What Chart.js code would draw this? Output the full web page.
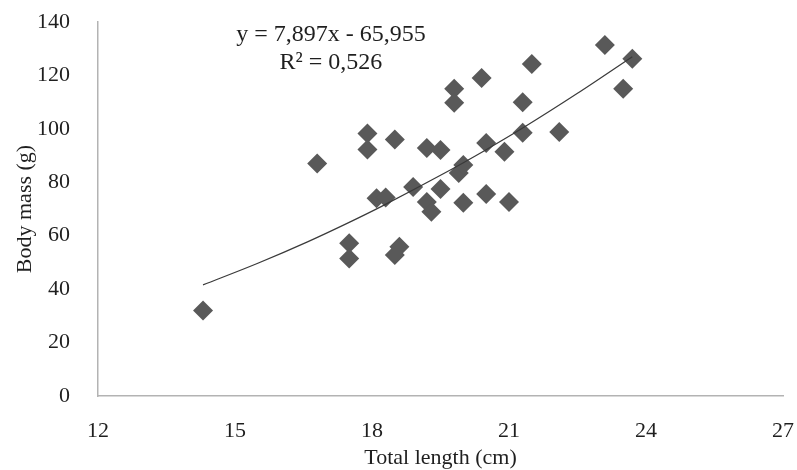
<!DOCTYPE html>
<html>
<head>
<meta charset="utf-8">
<script src="https://cdn.jsdelivr.net/npm/chart.js@4.4.0/dist/chart.umd.min.js"></script>
<style>
  html, body { margin: 0; padding: 0; background: #ffffff; }
  #wrap { width: 797px; height: 470px; }
</style>
</head>
<body>
<div id="wrap"><canvas id="myChart"></canvas></div>
<script>
// Body mass vs total length

const lengthCm = [14.3, 16.8, 17.5, 17.5, 17.9, 17.9, 18.1, 18.3, 18.5, 18.5, 18.6, 18.9, 19.2, 19.2, 19.3, 19.5, 19.5, 19.8, 19.8, 19.9, 20.0, 20.0, 20.4, 20.5, 20.5, 20.9, 21.0, 21.3, 21.3, 21.5, 22.1, 23.1, 23.5, 23.7];
const massG = [32, 87, 57.2, 51.5, 98.3, 92.3, 74, 74.3, 96, 52.8, 55.9, 78.2, 92.8, 72.6, 69, 92.1, 77.5, 115, 109.8, 83.5, 86.5, 72.3, 119, 94.7, 75.6, 91.4, 72.6, 110, 98.5, 124.3, 98.8, 131.4, 115, 126.2];

// trend curve as drawn in the figure
const trendX = [14.3, 15.5, 16.6, 17.5, 18.2, 19.5, 20.5, 21.3, 22.5, 23.7];
const trendY = [41.6, 49.7, 57.8, 65, 70.9, 82.6, 92.2, 100.3, 113.3, 127];

const xTicks = [12, 15, 18, 21, 24, 27];
const yTicks = [0, 20, 40, 60, 80, 100, 120, 140];

const equationLines = ["y = 7,897x - 65,955", "R\u00B2 = 0,526"];

const serif = "'Liberation Serif', 'Times New Roman', serif";
const textColor = "#1f1f1f";

const points = lengthCm.map((x, i) => ({ x: x, y: massG[i] }));
const trend = trendX.map((x, i) => ({ x: x, y: trendY[i] }));

// Draw the equation text inside the plot
const equationPlugin = {
  id: "equation",
  afterDraw(chart) {
    const ctx = chart.ctx;
    const xs = chart.scales.x;
    ctx.save();
    ctx.font = "24px " + serif;
    ctx.fillStyle = textColor;
    ctx.textAlign = "center";
    ctx.textBaseline = "middle";
    const cx = xs.getPixelForValue(17.1);
    ctx.fillText(equationLines[0], cx, 35);
    ctx.fillText(equationLines[1], cx, 63);
    ctx.restore();
  },
};

const ctx = document.getElementById("myChart").getContext("2d");
const myChart = new Chart(ctx, {
  type: "scatter",
  data: {
    datasets: [
      {
        label: "Body mass",
        data: points,
        pointStyle: "rectRot",
        pointRadius: 10,
        pointHoverRadius: 10,
        backgroundColor: "#595959",
        borderColor: "#595959",
        borderWidth: 0,
        order: 2,
      },
      {
        label: "Trend",
        type: "line",
        data: trend,
        borderColor: "#3a3a3a",
        borderWidth: 1.2,
        pointRadius: 0,
        fill: false,
        cubicInterpolationMode: "monotone",
        order: 1,
      },
    ],
  },
  options: {
    responsive: true,
    maintainAspectRatio: false,
    animation: false,
    layout: {
      padding: { left: 0, right: 14, top: 22, bottom: 0 },
    },
    plugins: {
      legend: { display: false },
      tooltip: { enabled: false },
    },
    scales: {
      x: {
        type: "linear",
        min: 12,
        max: 27,
        afterBuildTicks: (axis) => {
          axis.ticks = xTicks.map((v) => ({ value: v }));
        },
        afterFit: (axis) => {
          axis.height = 74;
          axis.paddingLeft = 0;
          axis.paddingRight = 0;
        },
        grid: { display: false },
        border: { display: true, color: "#b3b3b3", width: 1.5 },
        ticks: {
          padding: 14,
          color: textColor,
          font: { family: serif, size: 22 },
        },
        title: {
          display: true,
          text: "Total length (cm)",
          color: textColor,
          font: { family: serif, size: 22, lineHeight: 1.1 },
          padding: { top: 0, bottom: 0 },
        },
      },
      y: {
        type: "linear",
        min: 0,
        max: 140,
        afterBuildTicks: (axis) => {
          axis.ticks = yTicks.map((v) => ({ value: v }));
        },
        afterFit: (axis) => {
          axis.width = 98;
          axis.paddingTop = 0;
          axis.paddingBottom = 0;
        },
        grid: { display: false },
        border: { display: true, color: "#b3b3b3", width: 1.5 },
        ticks: {
          padding: 20,
          color: textColor,
          font: { family: serif, size: 22 },
        },
        title: {
          display: true,
          text: "Body mass (g)",
          color: textColor,
          font: { family: serif, size: 22, lineHeight: 1.1 },
          padding: { top: 13, bottom: 0 },
        },
      },
    },
  },
  plugins: [equationPlugin],
});
</script>
</body>
</html>
